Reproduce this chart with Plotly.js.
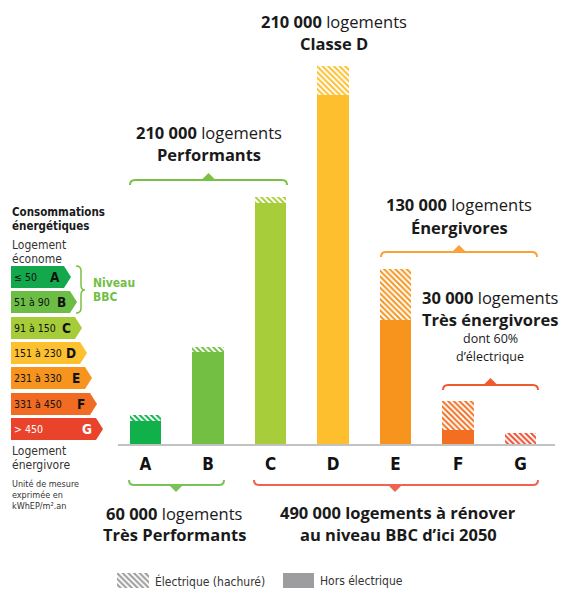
<!DOCTYPE html>
<html>
<head>
<meta charset="utf-8">
<script src="https://cdn.plot.ly/plotly-3.0.1.min.js"></script>
<style>
html,body{margin:0;padding:0;background:#fff;}
#chart{width:563px;height:593px;}
text[style*="DejaVu"]{font-stretch:condensed !important;}
</style>
</head>
<body>
<div id="chart"></div>
<script>
// ---- Data (thousands of housing units) ----
const categories = ['A', 'B', 'C', 'D', 'E', 'F', 'G'];
const horsElectrique = [13, 51, 134, 194, 69, 8, 0];
const electrique = [3, 3, 3, 16, 28, 16, 6];
const barColors = ['#10b04b', '#72bf44', '#a8cd3a', '#fdbf2e', '#f7941d', '#f26f22', '#ee4b2d'];

const bandRanges = ['≤ 50', '51 à 90', '91 à 150', '151 à 230', '231 à 330', '331 à 450', '> 450'];
const bandColors = ['#13a84b', '#6cbd45', '#a6cd39', '#fdc02f', '#f7941d', '#f26b22', '#e9442b'];
const legendLabels = ['Électrique (hachuré)', 'Hors électrique'];

// ---- helpers: pixel -> paper ----
const W = 563, H = 593;
const X = p => p / W, Y = p => 1 - p / H;
function path(cmds) {
  return cmds.map(c => {
    const op = c[0]; const nums = c.slice(1);
    const pts = [];
    for (let i = 0; i < nums.length; i += 2) pts.push(X(nums[i]).toFixed(5) + ',' + Y(nums[i + 1]).toFixed(5));
    return op + pts.join(' ');
  }).join(' ');
}
const SANS = 'Open Sans, Noto Sans, sans-serif';
const NARROW = 'DejaVu Sans';
const DARK = '#1a1a1a';

const traces = [
  {type: 'bar', x: categories, y: horsElectrique, width: 0.5,
   marker: {color: barColors, line: {width: 0}}, showlegend: false, hoverinfo: 'skip'},
  {type: 'bar', x: categories, y: electrique, width: 0.5,
   marker: {color: barColors, line: {width: 0}, pattern: {shape: '\\', size: 4, solidity: 0.5, bgcolor: 'white'}},
   showlegend: false, hoverinfo: 'skip'},
  // legend swatches
  {type: 'bar', x: [133], y: [1], width: [32], xaxis: 'x2', yaxis: 'y2',
   marker: {color: '#9a9a9a', line: {width: 0}, pattern: {shape: '\\', size: 4, solidity: 0.5, bgcolor: 'white'}},
   showlegend: false, hoverinfo: 'skip'},
  {type: 'bar', x: [298.5], y: [1], width: [31], xaxis: 'x2', yaxis: 'y2',
   marker: {color: '#9d9d9f', line: {width: 0}}, showlegend: false, hoverinfo: 'skip'}
];

const shapes = [];
const annotations = [];
function txt(text, x, y, opts) {
  opts = opts || {};
  annotations.push({text: text, xref: 'paper', yref: 'paper', x: X(x), y: Y(y),
    xanchor: opts.xanchor || 'center', yanchor: 'middle', showarrow: false,
    font: {family: opts.family || SANS, size: opts.size || 16.5, color: opts.color || DARK}});
}
function bracketTop(x1, x2, y, color) {
  shapes.push({type: 'path', xref: 'paper', yref: 'paper', line: {color: color, width: 2},
    path: path([['M', x1, y + 5], ['Q', x1, y, x1 + 5, y], ['L', x2 - 5, y], ['Q', x2, y, x2, y + 5]])});
  const xc = (x1 + x2) / 2;
  shapes.push({type: 'path', xref: 'paper', yref: 'paper', line: {width: 0}, fillcolor: color,
    path: path([['M', xc - 7, y], ['L', xc, y - 7], ['L', xc + 7, y], ['Z']])});
}
function bracketBottom(x1, x2, xc, y, color) {
  shapes.push({type: 'path', xref: 'paper', yref: 'paper', line: {color: color, width: 2},
    path: path([['M', x1, y - 5], ['Q', x1, y, x1 + 5, y], ['L', x2 - 5, y], ['Q', x2, y, x2, y - 5]])});
  shapes.push({type: 'path', xref: 'paper', yref: 'paper', line: {width: 0}, fillcolor: color,
    path: path([['M', xc - 7, y], ['L', xc, y + 7], ['L', xc + 7, y], ['Z']])});
}

// brackets
bracketTop(130, 287, 180, '#7ac143');
bracketTop(381, 537, 252, '#f9a13a');
bracketTop(443, 538, 385, '#ef5a2e');
bracketBottom(129, 224, 176, 485, '#7ac15a');
bracketBottom(254, 538, 395, 485, '#ee6450');

// annotations - main
txt('<b>210 000</b> logements', 334, 21);
txt('<b>Classe D</b>', 334, 43);
txt('<b>210 000</b> logements', 208.5, 132);
txt('<b>Performants</b>', 208.5, 154);
txt('<b>130 000</b> logements', 459, 205);
txt('<b>Énergivores</b>', 459, 228);
txt('<b>30 000</b> logements', 490, 297);
txt('<b>Très énergivores</b>', 490, 319);
txt('dont 60%', 490, 338, {size: 12.5});
txt('d’électrique', 490, 356, {size: 12.5});
txt('<b>60 000</b> logements', 174, 513);
txt('<b>Très Performants</b>', 174, 534);
txt('<b>490 000 logements à rénover</b>', 398, 512);
txt('<b>au niveau BBC d’ici 2050</b>', 398, 534);

// left energy label panel
txt('<b>Consommations</b>', 10, 212, {xanchor: 'left', family: NARROW, size: 11.5});
txt('<b>énergétiques</b>', 10, 226, {xanchor: 'left', family: NARROW, size: 11.5});
txt('Logement', 10, 245, {xanchor: 'left', family: NARROW, size: 12, color: '#333'});
txt('économe', 10, 259, {xanchor: 'left', family: NARROW, size: 12, color: '#333'});
txt('Logement', 10, 451, {xanchor: 'left', family: NARROW, size: 12, color: '#333'});
txt('énergivore', 10, 465, {xanchor: 'left', family: NARROW, size: 12, color: '#333'});
txt('Unité de mesure', 10, 484, {xanchor: 'left', family: NARROW, size: 9, color: '#333'});
txt('exprimée en', 10, 495, {xanchor: 'left', family: NARROW, size: 9, color: '#333'});
txt('kWhEP/m².an', 10, 506, {xanchor: 'left', family: NARROW, size: 9, color: '#333'});
txt('<b>Niveau</b>', 91, 283, {xanchor: 'left', family: NARROW, size: 12, color: '#72bf44'});
txt('<b>BBC</b>', 91, 297, {xanchor: 'left', family: NARROW, size: 12, color: '#72bf44'});

const bandTops = [266, 291, 317, 342, 367, 393, 418];
const bandTips = [71, 77, 82, 87, 92, 97, 103];
categories.forEach((c, i) => {
  const t = bandTops[i], tip = bandTips[i], h = 22;
  shapes.push({type: 'path', xref: 'paper', yref: 'paper', line: {width: 0}, fillcolor: bandColors[i],
    path: path([['M', 11, t], ['L', tip - 7, t], ['L', tip, t + h / 2], ['L', tip - 7, t + h], ['L', 11, t + h], ['Z']])});
  const col = i === 6 ? '#ffffff' : '#111111';
  txt(bandRanges[i], 12, t + h / 2, {xanchor: 'left', family: NARROW, size: 10.5, color: col});
  txt('<b>' + c + '</b>', tip - 16, t + h / 2, {family: NARROW, size: 13.5, color: col});
});
// curly brace for BBC
shapes.push({type: 'path', xref: 'paper', yref: 'paper', line: {color: '#7ac143', width: 1.5},
  path: path([['M', 76, 266], ['Q', 81, 266, 81, 271], ['L', 81, 285], ['Q', 81, 290, 85, 290],
              ['Q', 81, 290, 81, 295], ['L', 81, 308], ['Q', 81, 313, 76, 313]])});

// legend labels
txt(legendLabels[0], 153, 581, {xanchor: 'left', family: NARROW, size: 12, color: '#333'});
txt(legendLabels[1], 318, 581, {xanchor: 'left', family: NARROW, size: 12, color: '#333'});

const layout = {
  width: W, height: H,
  margin: {l: 0, r: 0, t: 0, b: 0, pad: 0},
  paper_bgcolor: '#fff', plot_bgcolor: 'rgba(0,0,0,0)',
  barmode: 'stack', bargap: 0.5,
  showlegend: false,
  xaxis: {domain: [X(118), X(555)], range: [-0.44, 6.55], type: 'category',
    showline: true, linecolor: '#c2c2c2', linewidth: 2, showgrid: false, zeroline: false,
    ticks: '', ticklabelstandoff: 4,
    tickfont: {family: NARROW, size: 17, color: '#111', weight: 'bold'}, fixedrange: true},
  yaxis: {domain: [Y(444), Y(20)], range: [0, 235.6], visible: false, showgrid: false, zeroline: false, fixedrange: true},
  xaxis2: {domain: [X(100), X(330)], range: [100, 330], anchor: 'y2', visible: false, fixedrange: true},
  yaxis2: {domain: [Y(588), Y(573)], range: [0, 1], anchor: 'x2', visible: false, fixedrange: true},
  shapes: shapes,
  annotations: annotations
};
Plotly.newPlot('chart', traces, layout, {staticPlot: true, displayModeBar: false});
</script>
</body>
</html>
